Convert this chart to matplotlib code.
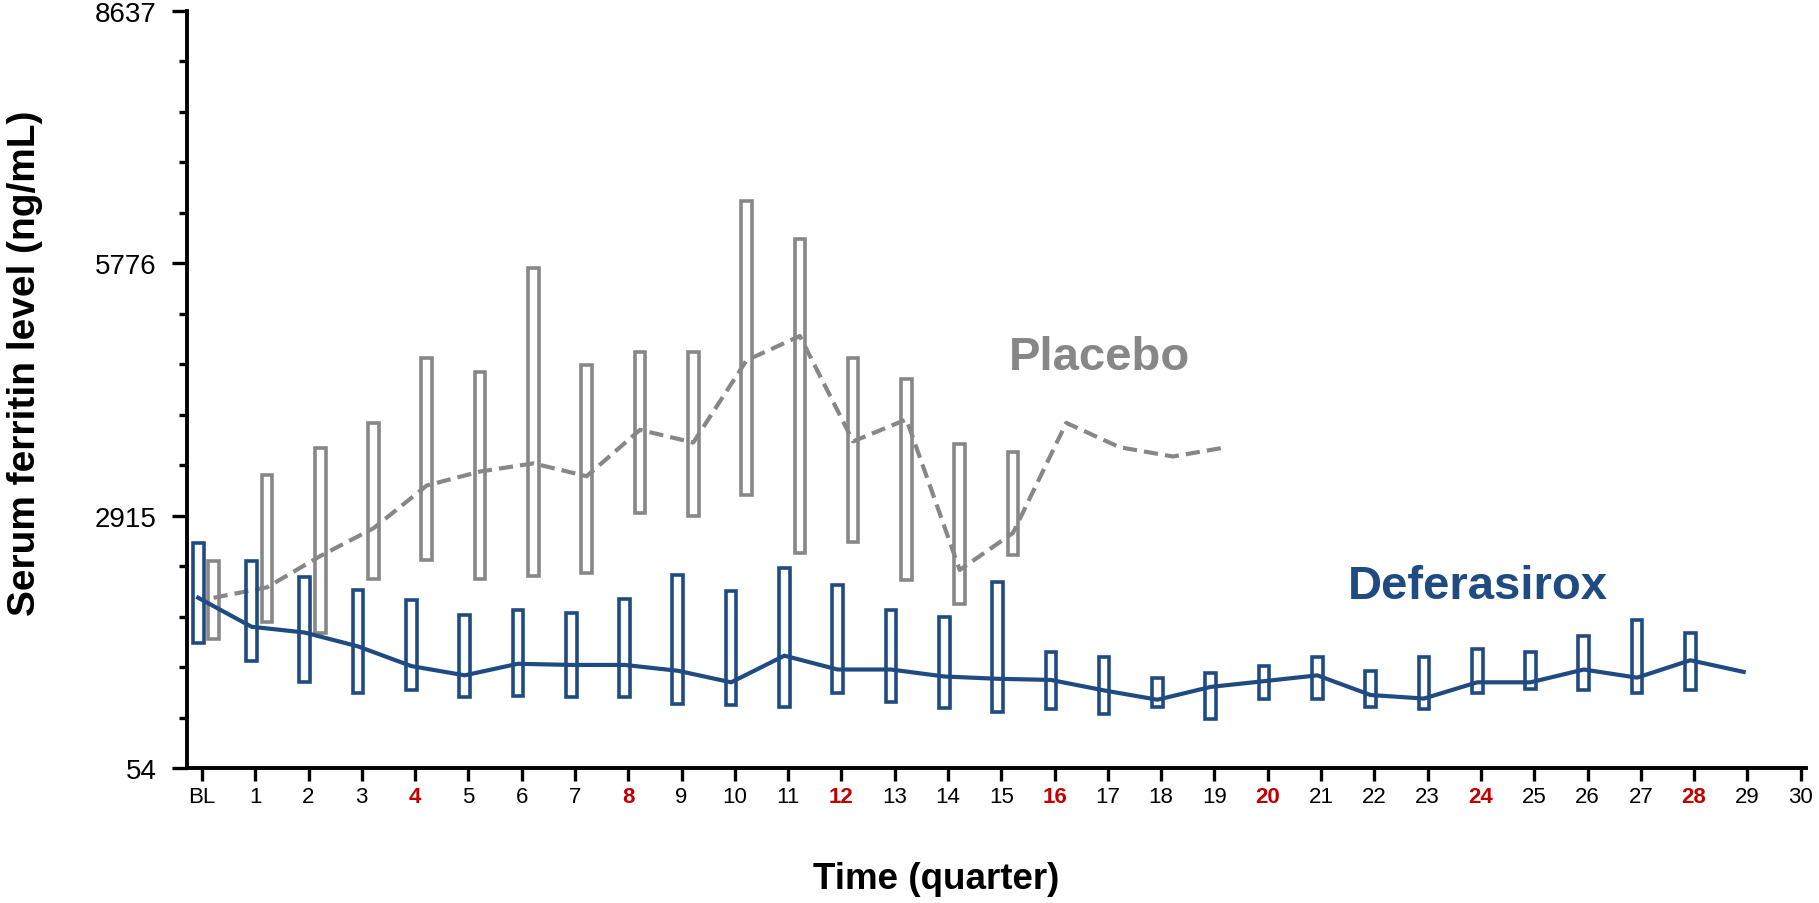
import numpy as np
import matplotlib
matplotlib.use("Agg")
import matplotlib.pyplot as plt
from matplotlib.ticker import FixedLocator

# ---------------- data ----------------
quarters = list(range(0, 31))
tick_labels = ["BL"] + [str(i) for i in range(1, 31)]
red_ticks = [4, 8, 12, 16, 20, 24, 28]

# Deferasirox (blue): quarters 0..28 boxes, line to 29
def_x = list(range(0, 30))
def_mid = [1983, 1655, 1589, 1432, 1209, 1104, 1235, 1222, 1222, 1156,
           1025, 1327, 1170, 1170, 1091, 1065, 1052, 933, 828, 973,
           1038, 1104, 881, 841, 1025, 1025, 1170, 1078, 1275, 1143]
def_box_x = list(range(0, 29))
def_hi = [2600, 2403, 2219, 2075, 1957, 1786, 1839, 1813, 1970, 2246,
          2062, 2324, 2128, 1839, 1760, 2167, 1366, 1314, 1078, 1130,
          1209, 1314, 1156, 1314, 1406, 1366, 1550, 1734, 1589]
def_lo = [1471, 1261, 1025, 907, 933, 855, 868, 855, 855, 776,
          763, 750, 907, 802, 736, 684, 723, 671, 750, 605,
          841, 841, 750, 723, 907, 946, 933, 907, 933]

# Placebo (gray): boxes 0..15, line to 19
pla_x = list(range(0, 20))
pla_mid = [1983, 2101, 2456, 2771, 3256, 3414, 3506, 3361, 3886, 3742,
           4674, 4949, 3755, 4004, 2298, 2718, 3965, 3689, 3584, 3689]
pla_box_x = list(range(0, 16))
pla_hi = [2403, 3374, 3676, 3965, 4700, 4542, 5724, 4621, 4766, 4766,
          6485, 6052, 4700, 4464, 3729, 3637]
pla_lo = [1511, 1708, 1589, 2193, 2416, 2193, 2233, 2259, 2941, 2915,
          3151, 2495, 2613, 2180, 1918, 2469]

y_ticks = [54, 2915, 5776, 8637]

# ---------------- style ----------------
BLUE = "#1f4b82"
GRAY = "#878787"
RED = "#c00000"
NARROW = ["Liberation Sans Narrow", "Liberation Sans", "DejaVu Sans"]
SANS = ["Liberation Sans", "DejaVu Sans"]
off_def = -0.07
off_pla = 0.22
box_w = 0.2

fig = plt.figure(figsize=(18.19, 9.04), dpi=100)
ax = fig.add_axes([187 / 1819, 1 - 769 / 904, (1806 - 187) / 1819, (769 - 11.6) / 904])

# placebo boxes + line
pbx = np.array(pla_box_x) + off_pla
ax.bar(pbx, np.array(pla_hi) - np.array(pla_lo), bottom=pla_lo, width=box_w,
       fill=False, edgecolor=GRAY, linewidth=2.6, zorder=2)
ax.plot(np.array(pla_x) + off_pla, pla_mid, color=GRAY, linewidth=3.0,
        dashes=(3.4, 1.7), zorder=3)

# deferasirox boxes + line
dbx = np.array(def_box_x) + off_def
ax.bar(dbx, np.array(def_hi) - np.array(def_lo), bottom=def_lo, width=box_w,
       fill=False, edgecolor=BLUE, linewidth=2.6, zorder=4)
ax.plot(np.array(def_x) + off_def, def_mid, color=BLUE, linewidth=3.0, zorder=5)

# axes
ax.set_xlim(-0.28, 30.1)
ax.set_ylim(54, 8637)
for s in ["top", "right"]:
    ax.spines[s].set_visible(False)
for s in ["left", "bottom"]:
    ax.spines[s].set_linewidth(2.8)
    ax.spines[s].set_color("black")

ax.set_xticks(quarters)
ax.set_xticklabels(tick_labels)
ax.tick_params(axis="x", direction="out", length=9, width=2.4, pad=4)
for lbl, q in zip(ax.get_xticklabels(), quarters):
    lbl.set_fontfamily(NARROW)
    lbl.set_fontsize(16)
    if q in red_ticks:
        lbl.set_color(RED)
        lbl.set_fontweight("bold")

ax.set_yticks(y_ticks)
ax.set_yticklabels([str(v) for v in y_ticks], fontsize=20, family=SANS)
ax.yaxis.set_minor_locator(FixedLocator(list(np.linspace(54, 8637, 16))))
ax.tick_params(axis="y", which="major", direction="out", length=11, width=2.4, pad=11)
ax.tick_params(axis="y", which="minor", direction="out", length=5.5, width=2.4)

ax.set_xlabel("Time (quarter)", fontsize=26.5, fontweight="bold", family=SANS)
ax.xaxis.set_label_coords((936 - 187) / 1619, -0.123)
ax.set_ylabel("Serum ferritin level (ng/mL)", fontsize=28, fontweight="bold", family=SANS)
ax.yaxis.set_label_coords(-0.089, 0.535)

ax.text(15.15, 4712, "Placebo", color=GRAY, fontsize=34, fontweight="bold",
        family=SANS, va="center", ha="left")
ax.text(21.5, 2120, "Deferasirox", color=BLUE, fontsize=34, fontweight="bold",
        family=SANS, va="center", ha="left")

fig.savefig("out.png", dpi=100)
